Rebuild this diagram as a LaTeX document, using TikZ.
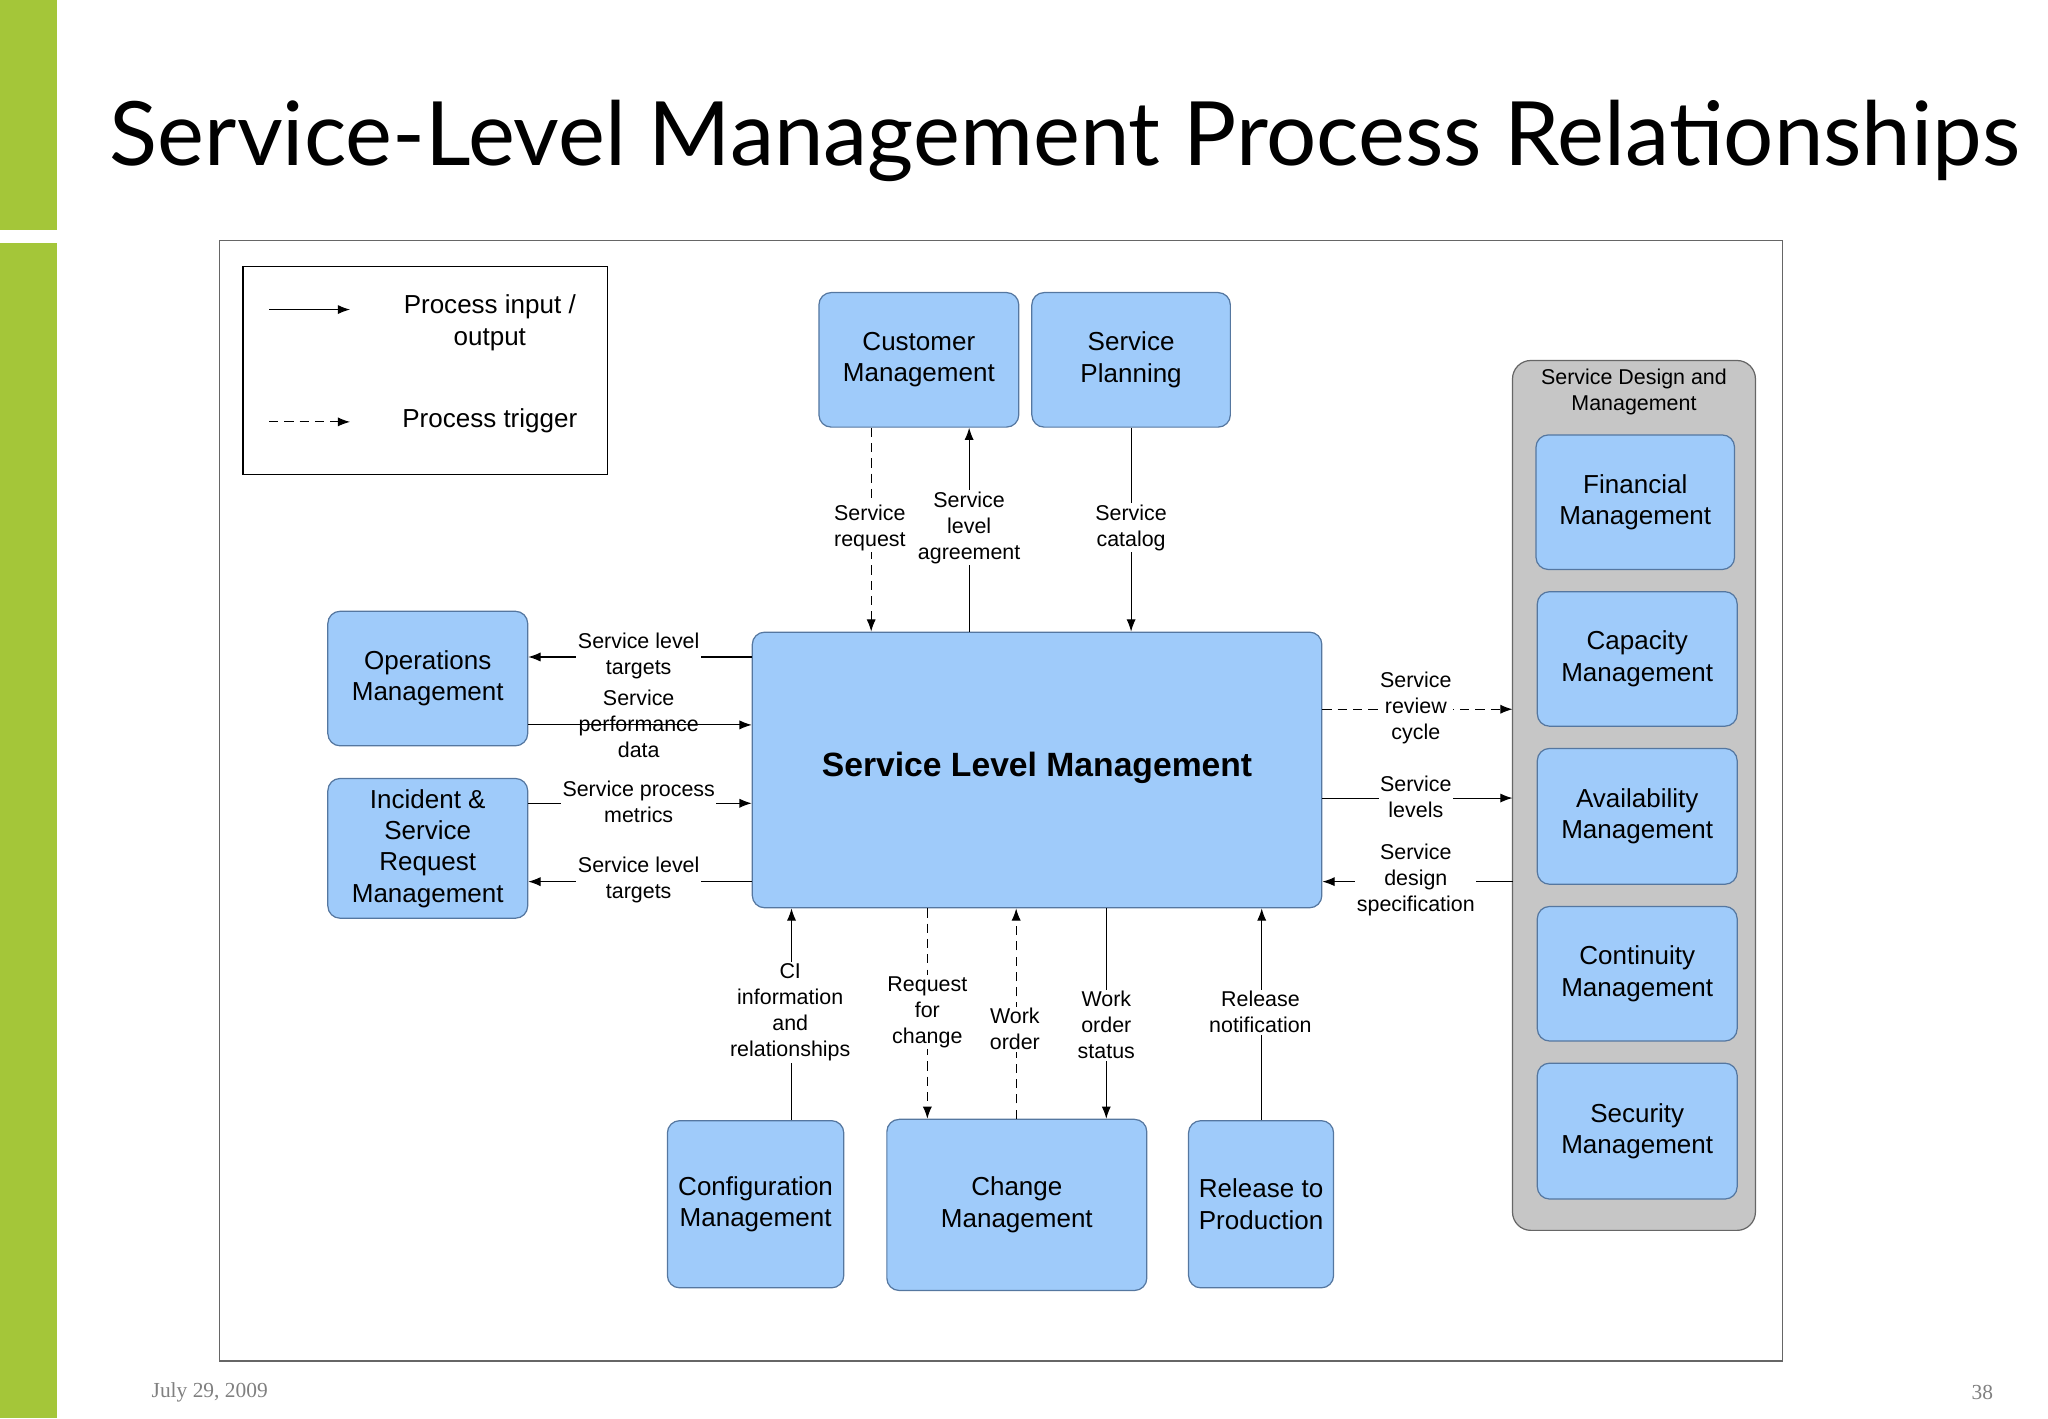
\documentclass[tikz,border=0pt]{standalone}
\usepackage{fontspec}
\setmainfont{Liberation Sans}
\newfontfamily\titlefont{Lato}
\newfontfamily\footfont{Liberation Serif}
\usetikzlibrary{arrows.meta}
\definecolor{bar}{HTML}{A4C639}
\definecolor{boxfill}{HTML}{9FCBFA}
\definecolor{boxline}{HTML}{5577A0}
\begin{document}
\begin{tikzpicture}[x=0.03cm,y=-0.03cm,
 box/.style={draw=boxline,fill=boxfill,rounded corners=8pt,line width=0.8pt,align=center,font=\fontsize{17}{20.5}\selectfont,inner sep=0},
 lbl/.style={fill=white,align=center,font=\fontsize{14}{17}\selectfont,inner sep=1pt},
 arr/.style={line width=0.7pt,-{Latex[length=8pt,width=6pt]}},
 dsh/.style={arr,dash pattern=on 6pt off 4pt}]
\useasboundingbox (0,0) rectangle (1568,1086);
\fill[bar] (0,0) rectangle (44,176);
\fill[bar] (0,186) rectangle (44,1086);
\node[anchor=west,font=\titlefont\fontsize{58}{60}\selectfont] (title) at (80,108) {Service-Level Management Process Relationships};
\node[anchor=west,text=gray,font=\footfont\fontsize{14}{16}\selectfont] (date) at (112,1066) {July 29, 2009};
\node[anchor=east,text=gray,font=\footfont\fontsize{14}{16}\selectfont] (pg) at (1530,1066) {38};
\draw[gray!80!black,line width=0.8pt] (168,184) rectangle (1365,1042);
% legend
\draw[line width=0.8pt] (186,204) rectangle (465,363);
\coordinate (l1a) at (206,237); \coordinate (l1b) at (268,237);
\coordinate (l2a) at (206,323); \coordinate (l2b) at (268,323);
\draw[arr] (l1a) -- (l1b);
\draw[dsh] (l2a) -- (l2b);
\node[align=center,font=\fontsize{17}{20.5}\selectfont] (lt1) at (375,247) {Process input /\\output};
\node[font=\fontsize{17}{20.5}\selectfont] (lt2) at (375,322) {Process trigger};
% container
\draw[draw=gray!80!black,fill=gray!45,rounded corners=12pt,line width=0.8pt] (1158,276) rectangle (1344,942);
\coordinate (cont) at (1158,600);
\node[align=center,font=\fontsize{14}{17}\selectfont] (ct) at (1251,300) {Service Design and\\Management};
% boxes
\node[box,minimum width=4.59cm,minimum height=3.09cm] (cm) at (703.5,275.5) {Customer\\Management};
\node[box,minimum width=4.56cm,minimum height=3.09cm] (sp) at (866,275.5) {Service\\Planning};
\node[box,minimum width=4.59cm,minimum height=3.09cm] (om) at (327.5,519.5) {Operations\\Management};
\node[box,minimum width=4.59cm,minimum height=3.21cm] (im) at (327.5,649.5) {Incident \&\\Service\\Request\\Management};
\node[box,minimum width=13.08cm,minimum height=6.33cm] (slm) at (794,589.5) {};
\node[font=\bfseries\fontsize{22}{26}\selectfont] (slmt) at (794,588) {Service Level Management};
\node[box,minimum width=4.05cm,minimum height=3.84cm] (cfg) at (578.5,922) {Configuration\\Management};
\node[box,minimum width=5.97cm,minimum height=3.93cm] (chg) at (778.5,922.5) {Change\\Management};
\node[box,minimum width=3.33cm,minimum height=3.84cm] (rel) at (965.5,922) {Release to\\Production};
\node[box,minimum width=4.56cm,minimum height=3.09cm] (fin) at (1252,384.5) {Financial\\Management};
\node[box,minimum width=4.59cm,minimum height=3.09cm] (cap) at (1253.5,504.5) {Capacity\\Management};
\node[box,minimum width=4.59cm,minimum height=3.12cm] (ava) at (1253.5,625) {Availability\\Management};
\node[box,minimum width=4.59cm,minimum height=3.09cm] (con) at (1253.5,745.5) {Continuity\\Management};
\node[box,minimum width=4.59cm,minimum height=3.12cm] (sec) at (1253.5,866) {Security\\Management};
% top connectors
\coordinate (x1) at (667,0); \coordinate (x2) at (742,0); \coordinate (x3) at (866,0);
\draw[dsh] (cm.south -| x1) -- (slm.north -| x1);
\draw[arr] (slm.north -| x2) -- (cm.south -| x2);
\draw[arr] (sp.south -| x3) -- (slm.north -| x3);
\node[lbl] (t1) at (666,404) {Service\\request};
\node[lbl] (t2) at (742,404) {Service\\level\\agreement};
\node[lbl] (t3) at (866,404) {Service\\catalog};
% left connectors
\coordinate (y1) at (0,503); \coordinate (y2) at (0,555); \coordinate (y3) at (0,615); \coordinate (y4) at (0,675);
\draw[arr] (slm.west |- y1) -- (om.east |- y1);
\draw[arr] (om.east |- y2) -- (slm.west |- y2);
\draw[arr] (im.east |- y3) -- (slm.west |- y3);
\draw[arr] (slm.west |- y4) -- (im.east |- y4);
\node[lbl] (t4) at (489,502) {Service level\\targets};
\node[lbl,fill=none] (t5) at (489,554) {Service\\performance\\data};
\node[lbl] (t6) at (489,614) {Service process\\metrics};
\node[lbl] (t7) at (489,674) {Service level\\targets};
% right connectors
\coordinate (y5) at (0,543); \coordinate (y6) at (0,611);
\draw[dsh] (slm.east |- y5) -- (cont |- y5);
\draw[arr] (slm.east |- y6) -- (cont |- y6);
\draw[arr] (cont |- y4) -- (slm.east |- y4);
\node[lbl] (t8) at (1084,542) {Service\\review\\cycle};
\node[lbl] (t9) at (1084,610) {Service\\levels};
\node[lbl] (t10) at (1084,674) {Service\\design\\specification};
% bottom connectors
\coordinate (x4) at (606,0); \coordinate (x5) at (710,0); \coordinate (x6) at (778,0); \coordinate (x7) at (847,0); \coordinate (x8) at (966,0);
\draw[arr] (cfg.north -| x4) -- (slm.south -| x4);
\draw[dsh] (slm.south -| x5) -- (chg.north -| x5);
\draw[dsh] (chg.north -| x6) -- (slm.south -| x6);
\draw[arr] (slm.south -| x7) -- (chg.north -| x7);
\draw[arr] (rel.north -| x8) -- (slm.south -| x8);
\node[lbl] (t11) at (605,775) {CI\\information\\and\\relationships};
\node[lbl] (t12) at (710,775) {Request\\for\\change};
\node[lbl] (t13) at (777,788) {Work\\order};
\node[lbl] (t14) at (847,785) {Work\\order\\status};
\node[lbl] (t15) at (965,775) {Release\\notification};
\end{tikzpicture}
\end{document}
